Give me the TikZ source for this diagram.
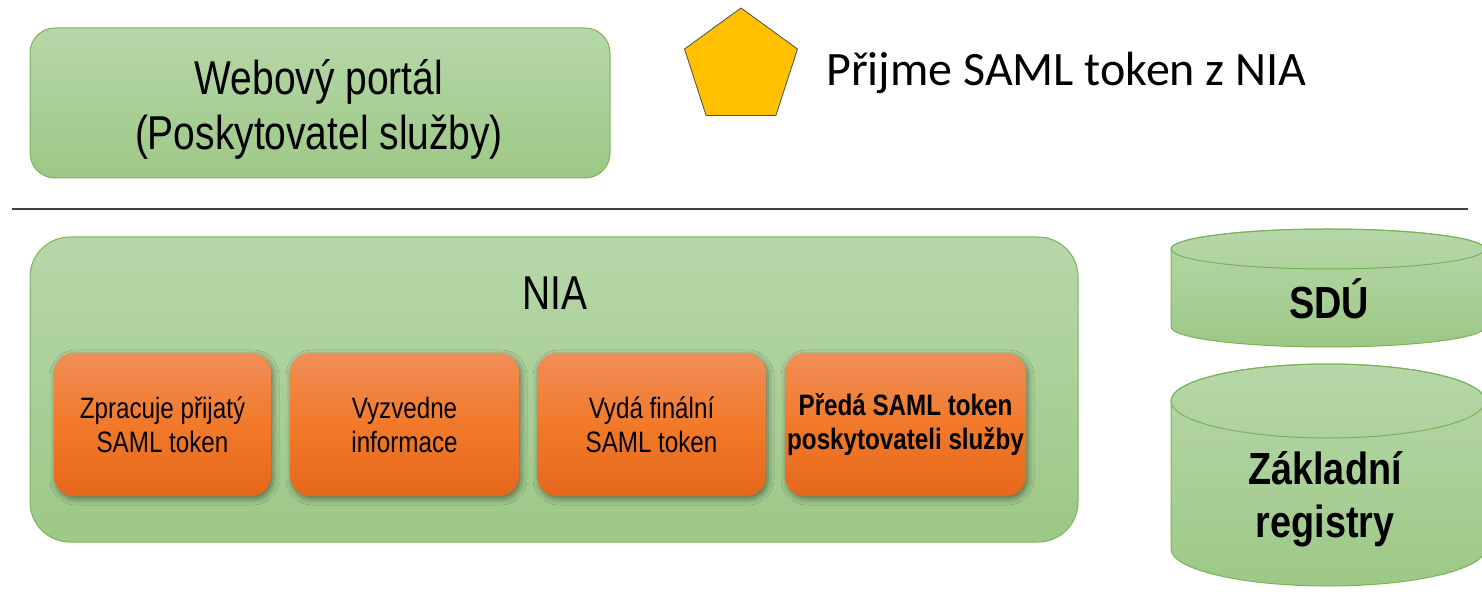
\documentclass[tikz,border=0pt]{standalone}
\usepackage{fontspec}
\setmainfont{Liberation Sans}
\newfontfamily\calibri{Carlito}
\usetikzlibrary{shapes.geometric,shadows.blur}
\definecolor{gtop}{RGB}{183,215,168}
\definecolor{gbot}{RGB}{157,200,135}
\definecolor{gline}{RGB}{122,180,88}
\definecolor{otop}{RGB}{240,142,88}
\definecolor{omid}{RGB}{242,121,42}
\definecolor{obot}{RGB}{229,104,28}
\definecolor{penta}{RGB}{255,192,0}
\newcommand\nrw[2][0.82]{\scalebox{#1}[1]{#2}}
\begin{document}
\begin{tikzpicture}[x=1pt,y=1pt,
  greenbox/.style={draw=gline, line width=1pt, top color=gtop, bottom color=gbot},
  orangebox/.style={rounded corners=20pt, top color=otop, bottom color=obot, middle color=omid,
     minimum height=143pt, inner sep=0pt, align=center,
     blur shadow={shadow xshift=2pt, shadow yshift=-3pt, shadow blur radius=6pt, shadow opacity=45},
     font=\fontsize{29.5}{34}\selectfont},
  cyl/.style={draw=gline, line width=1pt, top color=gtop, bottom color=gbot},
  cyltext/.style={font=\fontsize{45}{53}\selectfont\bfseries, align=center}]
\clip (0,0) rectangle (1482,600);
\fill[white] (0,0) rectangle (1482,600);

% top box
\node[greenbox, rounded corners=25pt, minimum width=580pt, minimum height=150pt, inner sep=0pt] (web) at (320,497) {};
\node[align=center, font=\fontsize{47.5}{55}\selectfont] (webtext) at (319,491)
  {\nrw{Webový portál}\\\nrw{(Poskytovatel služby)}};

% pentagon
\node[regular polygon, regular polygon sides=5, minimum size=118.8pt, inner sep=0pt,
      fill=penta, draw=black!70, line width=0.8pt] (pent) at (741,532.6) {};
\node[anchor=base west, inner sep=0pt, font=\calibri\fontsize{48}{56}\selectfont] (penttext) at (826,514)
  {Přijme SAML token z NIA};

% separator line
\coordinate (l1) at (12,391);
\coordinate (l2) at (1468,391);
\draw[black!75, line width=1.6pt] (l1) -- (l2);

% NIA box
\node[greenbox, rounded corners=40pt, minimum width=1048pt, minimum height=305pt, inner sep=0pt] (nia) at (554,210.5) {};
\node[font=\fontsize{47.5}{55}\selectfont] (nialabel) at (555,307) {\nrw{NIA}};

% orange boxes
\node[orangebox, minimum width=217pt] (p1) at (162.5,175.5) {\nrw{Zpracuje přijatý}\\\nrw{SAML token}};
\node[orangebox, minimum width=229pt] (p2) at (404.5,175.5) {\nrw{Vyzvedne}\\\nrw{informace}};
\node[orangebox, minimum width=229pt] (p3) at (651.5,175.5) {\nrw{Vydá finální}\\\nrw{SAML token}};
\node[orangebox, minimum width=241pt, font=\fontsize{29.5}{34}\selectfont\bfseries] (p4) at (905.5,175.5) {\nrw{Předá SAML token}\\\nrw{poskytovateli služby}};

% cylinder SDU
\path[cyl] (1171,351) -- (1171,273) arc[start angle=180, end angle=360, x radius=157, y radius=20]
  -- (1485,351) arc[start angle=0, end angle=180, x radius=157, y radius=20] -- cycle;
\draw[gline, line width=1pt] (1328,351) ellipse[x radius=157, y radius=20];
\node[cyltext] (sdu) at (1329,301) {\nrw[0.84]{SDÚ}};

% cylinder Zakladni registry
\path[cyl] (1171,199) -- (1171,51) arc[start angle=180, end angle=360, x radius=157, y radius=37]
  -- (1485,199) arc[start angle=0, end angle=180, x radius=157, y radius=37] -- cycle;
\draw[gline, line width=1pt] (1328,199) ellipse[x radius=157, y radius=37];
\node[cyltext] (zr) at (1325,101) {\nrw[0.84]{Základní}\\\nrw[0.84]{registry}};
\end{tikzpicture}
\end{document}
